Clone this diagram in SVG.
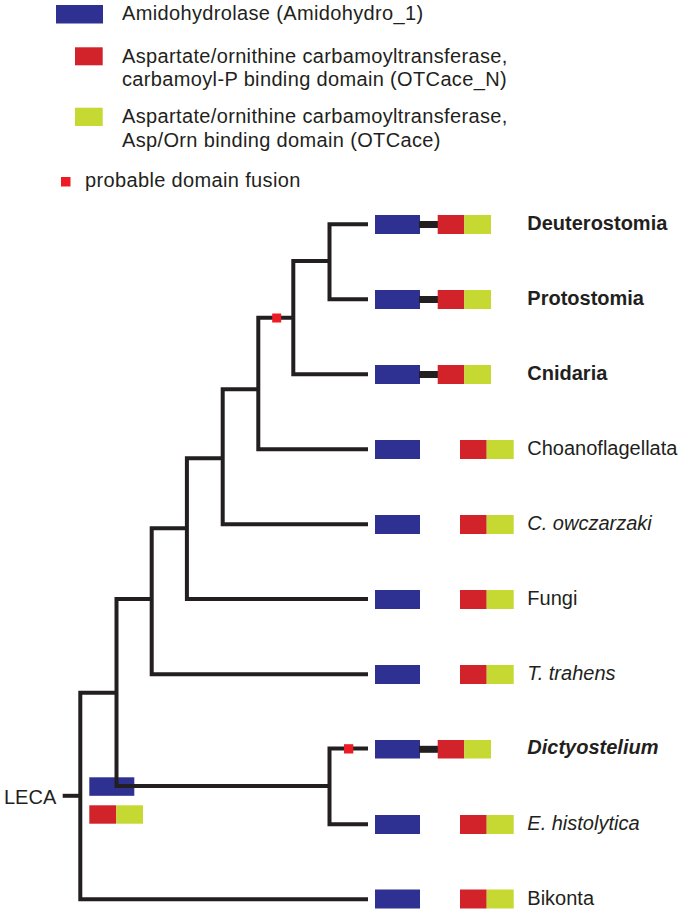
<svg xmlns="http://www.w3.org/2000/svg" width="679" height="913" viewBox="0 0 679 913">
<style>
text{font-family:"Liberation Sans",Arial,sans-serif;font-size:20px;fill:#231f20}
.leg{letter-spacing:0.35px}
.b{font-weight:bold}
.i{font-style:italic}
.blue{fill:#2e3192}
.red{fill:#d2232a}
.green{fill:#c5d932}
.fus{fill:#ed1c24}
.bar{fill:#231f20}
.tree path{fill:none;stroke:#231f20;stroke-width:4;stroke-linejoin:miter}
</style>
<rect width="679" height="913" fill="#ffffff"/>
<g id="legend">
<g id="legend-amidohydrolase">
<rect class="blue" x="56" y="5" width="47" height="18.5"/>
<text class="leg" x="122" y="19.5">Amidohydrolase (Amidohydro_1)</text>
</g>
<g id="legend-otcace-n">
<rect class="red" x="75" y="47.3" width="27.7" height="18"/>
<text class="leg" x="122" y="62.7">Aspartate/ornithine carbamoyltransferase,</text>
<text class="leg" x="122" y="86.2">carbamoyl-P binding domain (OTCace_N)</text>
</g>
<g id="legend-otcace">
<rect class="green" x="75" y="107.7" width="27.7" height="18.3"/>
<text class="leg" x="122" y="123.3">Aspartate/ornithine carbamoyltransferase,</text>
<text class="leg" x="122" y="146.8">Asp/Orn binding domain (OTCace)</text>
</g>
<g id="legend-fusion">
<rect class="fus" x="61" y="177" width="9.5" height="9.5"/>
<text class="leg" x="85" y="187">probable domain fusion</text>
</g>
</g>
<g id="LECA">
<rect class="blue" x="89.3" y="777.3" width="45" height="18.5"/>
<rect class="red" x="89.3" y="805.3" width="27" height="18.4"/>
<rect class="green" x="116.3" y="805.3" width="26.7" height="18.4"/>
<text x="4" y="804.3">LECA</text>
</g>
<g class="tree" id="connectors">
<path d="M368,224.3 H329.5 V299.3 H368"/>
<path d="M329.5,261 H293.3 V374.3 H368"/>
<path d="M293.3,317.8 H258.3 V449.3 H368"/>
<path d="M258.3,389.3 H222.7 V524.3 H368"/>
<path d="M222.7,458.3 H186.9 V599.1 H368"/>
<path d="M186.9,528.3 H151.7 V674.2 H368"/>
<path d="M151.7,599 H116.5 V786 H329.5"/>
<path d="M368,748.4 H329.5 V824.2 H368"/>
<path d="M116.5,692.7 H80.3 V899.3 H368"/>
<path d="M62.7,795.8 H80.3"/>
</g>
<g id="fusion-marks">
<rect class="fus" x="272.2" y="313.5" width="9" height="9"/>
<rect class="fus" x="344" y="744.2" width="9.3" height="9.3"/>
</g>
<g id="Deuterostomia">
<rect class="blue" x="375" y="215" width="45" height="19"/>
<rect class="bar" x="419" y="221" width="20" height="7"/>
<rect class="red" x="437.7" y="215" width="26.6" height="19"/>
<rect class="green" x="464.3" y="215" width="26.7" height="19"/>
<text class="b" x="527.3" y="230">Deuterostomia</text>
</g>
<g id="Protostomia">
<rect class="blue" x="375" y="290" width="45" height="19"/>
<rect class="bar" x="419" y="296" width="20" height="7"/>
<rect class="red" x="437.7" y="290" width="26.6" height="19"/>
<rect class="green" x="464.3" y="290" width="26.7" height="19"/>
<text class="b" x="527.3" y="305">Protostomia</text>
</g>
<g id="Cnidaria">
<rect class="blue" x="375" y="365" width="45" height="19"/>
<rect class="bar" x="419" y="371" width="20" height="7"/>
<rect class="red" x="437.7" y="365" width="26.6" height="19"/>
<rect class="green" x="464.3" y="365" width="26.7" height="19"/>
<text class="b" x="527.3" y="380">Cnidaria</text>
</g>
<g id="Choanoflagellata">
<rect class="blue" x="375" y="440" width="45" height="19"/>
<rect class="red" x="460" y="440" width="26.7" height="19"/>
<rect class="green" x="486.7" y="440" width="27" height="19"/>
<text x="527.3" y="455">Choanoflagellata</text>
</g>
<g id="C-owczarzaki">
<rect class="blue" x="375" y="515" width="45" height="19"/>
<rect class="red" x="460" y="515" width="26.7" height="19"/>
<rect class="green" x="486.7" y="515" width="27" height="19"/>
<text class="i" x="527.3" y="530">C. owczarzaki</text>
</g>
<g id="Fungi">
<rect class="blue" x="375" y="590" width="45" height="19"/>
<rect class="red" x="460" y="590" width="26.7" height="19"/>
<rect class="green" x="486.7" y="590" width="27" height="19"/>
<text x="527.3" y="605">Fungi</text>
</g>
<g id="T-trahens">
<rect class="blue" x="375" y="665" width="45" height="19"/>
<rect class="red" x="460" y="665" width="26.7" height="19"/>
<rect class="green" x="486.7" y="665" width="27" height="19"/>
<text class="i" x="527.3" y="679.5">T. trahens</text>
</g>
<g id="Dictyostelium">
<rect class="blue" x="375" y="740" width="45" height="18.5"/>
<rect class="bar" x="419" y="745.8" width="20" height="7"/>
<rect class="red" x="437.7" y="740" width="26.6" height="18.5"/>
<rect class="green" x="464.3" y="740" width="26.7" height="18.5"/>
<text class="b i" x="527.3" y="754">Dictyostelium</text>
</g>
<g id="E-histolytica">
<rect class="blue" x="375" y="815" width="45" height="19"/>
<rect class="red" x="460" y="815" width="26.7" height="19"/>
<rect class="green" x="486.7" y="815" width="27" height="19"/>
<text class="i" x="527.3" y="830">E. histolytica</text>
</g>
<g id="Bikonta">
<rect class="blue" x="375" y="889.5" width="45" height="19"/>
<rect class="red" x="460" y="889.5" width="26.7" height="19"/>
<rect class="green" x="486.7" y="889.5" width="27" height="19"/>
<text x="527.3" y="905">Bikonta</text>
</g>
</svg>
